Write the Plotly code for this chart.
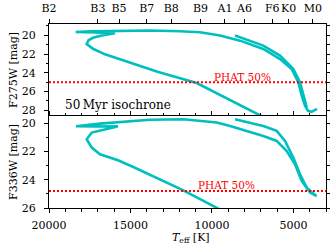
import plotly.graph_objects as go

# ---------------- data ----------------
# F275W isochrone: main sequence -> hook -> blue tip -> crossing -> RGB end
f275w_teff = [6744, 9094, 10935, 13292, 15440, 16563, 17300, 17686, 17576, 17300,
              16766, 15949, 17177, 18361, 17484, 15643, 13801, 11960, 10733, 9505,
              8278, 6848, 5823, 5105, 4700, 4491, 4289, 4104, 3890, 3552]
f275w_mag = [28.80, 26.75, 25.09, 23.91, 22.67, 22.03, 21.44, 20.93, 20.53, 20.27,
             20.03, 19.79, 19.71, 19.66, 19.59, 19.53, 19.50, 19.57, 19.68, 20.03,
             20.57, 21.46, 22.53, 23.59, 25.01, 26.43, 27.50, 28.05, 28.16, 27.84]
f275w_loop_teff = [4184, 4393, 4596, 5007, 5823, 6848, 8585]
f275w_loop_mag = [27.68, 26.43, 25.01, 23.59, 22.17, 21.10, 20.03]

# F336W isochrone
f336w_teff = [8892, 9609, 11758, 14826, 15765, 16870, 17379, 17686, 17379, 16054,
              15765, 17177, 18343, 16870, 13801, 11758, 9708, 8892, 6848, 6025,
              5412, 4902, 4491, 3982, 3571]
f336w_mag = [26.48, 26.05, 24.75, 23.10, 22.63, 22.20, 21.73, 21.14, 20.67, 20.31,
             20.22, 20.24, 20.22, 20.04, 19.76, 19.73, 19.96, 20.20, 20.91, 21.26,
             21.97, 22.91, 24.09, 24.91, 25.15]
f336w_loop_teff = [3675, 4184, 4596, 5007, 5516, 6025, 6848, 8585]
f336w_loop_mag = [25.08, 24.56, 23.62, 22.44, 21.26, 20.55, 20.20, 19.73]

# PHAT 50% completeness limits
phat_f275w = 25.0
phat_f336w = 24.8

# spectral type ticks on top axis
spt_teff = [20000, 17000, 15700, 14000, 12500, 10700, 9200, 8000, 6300, 5300, 3800]
spt_labels = ["B2", "B3", "B5", "B7", "B8", "B9", "A1", "A6", "F6", "K0", "M0"]

teff_ticks = [20000, 15000, 10000, 5000]
teff_ticklabels = ["20000", "15000", "10000", "5000"]
teff_range = [20000, 3000]
f275w_range = [28.6, 18.8]
f336w_range = [26.0, 19.5]

# ---------------- figure ----------------
CYAN = "#00BFBF"
RED = "#FF0000"
FONT = "DejaVu Serif"

fig = go.Figure()

line_style = dict(color=CYAN, width=2.6)
fig.add_trace(go.Scatter(x=f275w_teff, y=f275w_mag, mode="lines", line=line_style,
                         xaxis="x", yaxis="y", showlegend=False))
fig.add_trace(go.Scatter(x=f275w_loop_teff, y=f275w_loop_mag, mode="lines", line=line_style,
                         xaxis="x", yaxis="y", showlegend=False))
fig.add_trace(go.Scatter(x=f336w_teff, y=f336w_mag, mode="lines", line=line_style,
                         xaxis="x2", yaxis="y2", showlegend=False))
fig.add_trace(go.Scatter(x=f336w_loop_teff, y=f336w_loop_mag, mode="lines", line=line_style,
                         xaxis="x2", yaxis="y2", showlegend=False))

# PHAT limit lines
dot = dict(color=RED, width=2, dash="2px,2px")
fig.add_trace(go.Scatter(x=teff_range, y=[phat_f275w, phat_f275w], mode="lines", line=dot,
                         xaxis="x", yaxis="y", showlegend=False))
fig.add_trace(go.Scatter(x=teff_range, y=[phat_f336w, phat_f336w], mode="lines", line=dot,
                         xaxis="x2", yaxis="y2", showlegend=False))

axis_common = dict(showline=True, linecolor="black", linewidth=1, showgrid=False,
                   zeroline=False, ticks="outside", tickcolor="black", tickwidth=1,
                   automargin=False,
                   tickfont=dict(family=FONT, size=11, color="black"))

fig.update_layout(
    width=330, height=250,
    margin=dict(l=49, r=4, t=24, b=42, autoexpand=False),
    paper_bgcolor="white", plot_bgcolor="white",
    font=dict(family=FONT, size=11, color="black"),
    xaxis=dict(**axis_common, anchor="y", side="top", range=teff_range,
               tickmode="array", tickvals=spt_teff, ticktext=spt_labels, ticklen=4,
               mirror=False, tickangle=0, ticklabelstandoff=3),
    yaxis=dict(**axis_common, domain=[0.5, 1], range=f275w_range, anchor="x",
               tickmode="array", tickvals=[20, 22, 24, 26, 28], ticklen=4, mirror="ticks",
               minor=dict(dtick=1, tick0=19, ticklen=2.5, ticks="outside", tickcolor="black"),
               ticklabelstandoff=6),
    xaxis2=dict(**axis_common, anchor="y2", range=teff_range, domain=[0, 1],
                tickmode="array", tickvals=teff_ticks, ticktext=teff_ticklabels,
                ticklen=4, mirror="ticks", tickangle=0,
                minor=dict(dtick=1000, tick0=0, ticklen=2.5, ticks="outside", tickcolor="black"),
                ticklabelstandoff=3),
    yaxis2=dict(**axis_common, domain=[0, 0.5], range=f336w_range, anchor="x2",
                tickmode="array", tickvals=[20, 22, 24, 26], ticklen=4, mirror="ticks",
                minor=dict(dtick=1, tick0=19, ticklen=2.5, ticks="outside", tickcolor="black"),
                ticklabelstandoff=6),
)

ann = []
ann.append(dict(text="50\u2009Myr isochrone", x=19150, y=27.4, xref="x", yref="y",
                xanchor="left", yanchor="middle", showarrow=False,
                font=dict(family=FONT, size=12, color="black")))
ann.append(dict(text="PHAT 50%", x=8124, y=24.45, xref="x", yref="y",
                xanchor="center", yanchor="middle", showarrow=False,
                font=dict(family=FONT, size=10.5, color=RED)))
ann.append(dict(text="PHAT 50%", x=9137, y=24.4, xref="x2", yref="y2",
                xanchor="center", yanchor="middle", showarrow=False,
                font=dict(family=FONT, size=10.5, color=RED)))
ann.append(dict(text="F275W [mag]", x=-0.13, y=0.75, xref="paper", yref="paper",
                textangle=-90, showarrow=False, xanchor="center", yanchor="middle",
                font=dict(family=FONT, size=11, color="black")))
ann.append(dict(text="F336W [mag]", x=-0.13, y=0.25, xref="paper", yref="paper",
                textangle=-90, showarrow=False, xanchor="center", yanchor="middle",
                font=dict(family=FONT, size=11, color="black")))
ann.append(dict(text="<i>T</i><sub>eff</sub> [K]", x=0.513, y=-0.165, xref="paper", yref="paper",
                showarrow=False, xanchor="center", yanchor="middle",
                font=dict(family=FONT, size=11, color="black")))
fig.update_layout(annotations=ann)

# remove the browser's default 8px body margin so the figure fills the window
fig.write_html("out.html", config={"displayModeBar": False},
               post_script="document.body.style.margin='0';")
